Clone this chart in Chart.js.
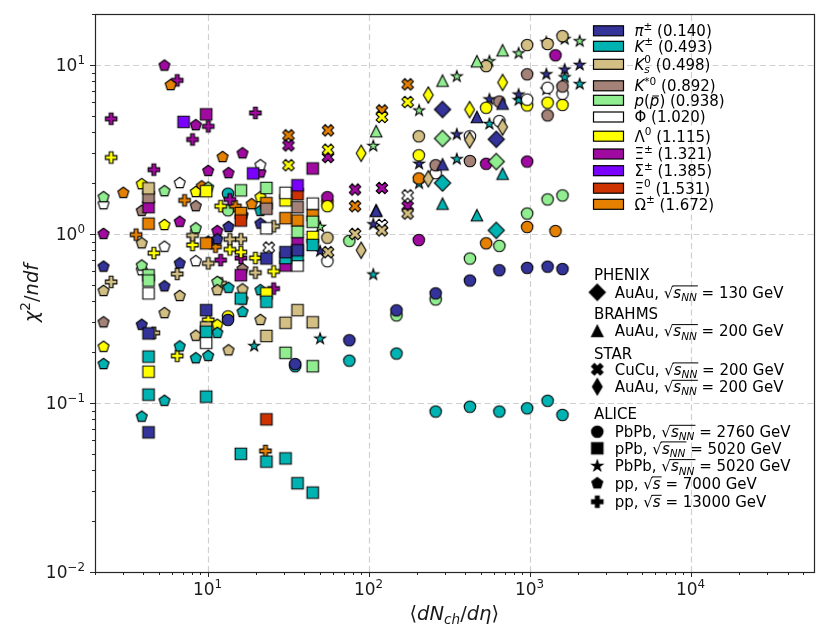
<!DOCTYPE html>
<html>
<head>
<meta charset="utf-8">
<script src="https://cdn.jsdelivr.net/npm/chart.js@4.4.0/dist/chart.umd.min.js"></script>
<style>
  html, body { margin: 0; padding: 0; background: #fff; }
</style>
</head>
<body>
<canvas id="chart" width="830" height="637"></canvas>
<script>
// particle species (colour order follows the legend)
const speciesColors = ['#333399', '#00b3b3', '#d3bf83', '#a58278', '#90ee90', '#ffffff',
                       '#ffff00', '#a00aa0', '#7a00ff', '#cc3300', '#e68000'];
const speciesMass = ['0.140', '0.493', '0.498', '0.892', '0.938', '1.020', '1.115', '1.321', '1.385', '1.531', '1.672'];

// axis ticks
const xTickValues = [10, 100, 1000, 10000];
const xTickExps = ['1', '2', '3', '4'];
const yTickValues = [0.01, 0.1, 1, 10];
const yTickExps = ['\u22122', '\u22121', '0', '1'];

// ALICE pPb 5.02 TeV (squares)  [<dNch/deta>, chi2/ndf]
const pPb_pi = [[36.2, 0.80], [30.5, 0.78], [23.2, 0.716], [9.8, 0.354], [4.3, 0.258], [4.3, 0.067]];
const pPb_K = [[45, 0.86], [36.2, 0.75], [30.5, 0.72], [23.2, 0.397], [16.1, 0.415], [9.8, 0.264], [4.3, 0.188],
               [45, 0.0295], [36.2, 0.0335], [30.5, 0.047], [23.2, 0.045], [16.1, 0.05], [9.8, 0.109], [4.3, 0.112]];
const pPb_K0s = [[45, 0.30], [36.2, 0.354], [30.5, 0.298], [23.2, 0.249], [9.8, 0.28], [4.3, 1.86]];
const pPb_Kstar = [[36.2, 1.44], [23.2, 1.41], [4.3, 1.65]];
const pPb_p = [[45, 1.18], [36.2, 1.03], [23.2, 1.87], [16.1, 1.81], [4.3, 0.57], [4.3, 0.53], [45, 0.165], [30.5, 0.198]];
const pPb_Phi = [[45, 1.51], [36.2, 0.65], [30.5, 1.75], [23.2, 1.08], [9.8, 0.227], [4.3, 0.445]];
const pPb_Lambda = [[45, 0.96], [30.5, 1.58], [23.2, 0.445], [9.8, 1.79], [4.3, 0.153]];
const pPb_Xi = [[45, 2.44], [36.2, 0.88], [30.5, 0.65], [16.1, 0.57], [9.8, 5.1], [4.3, 1.44]];
const pPb_Sigma = [[36.2, 1.94], [19.2, 2.28], [7.1, 4.6]];
const pPb_Xi0 = [[36.2, 1.72], [16.1, 1.2], [23.2, 0.08]];
const pPb_Omega = [[45, 1.29], [36.2, 1.2], [30.5, 1.24], [23.2, 1.52], [16.1, 1.33], [9.8, 0.88], [4.3, 1.15]];

// ALICE pp 7 TeV (pentagons)
const pp7_pi = [[21.3, 1.15], [16.5, 1.29], [13.5, 1.1], [11.5, 0.93], [10.1, 0.9], [6.72, 0.67], [5.4, 0.49], [3.9, 0.29], [2.26, 0.64]];
const pp7_K = [[21.3, 0.465], [16.5, 0.346], [13.5, 0.48], [11.5, 0.26], [10.1, 0.19], [8.45, 0.184], [6.72, 0.216], [5.4, 0.103], [3.9, 0.083], [2.26, 0.17], [21.3, 1.37]];
const pp7_K0s = [[21.3, 0.31], [16.5, 0.47], [13.5, 0.205], [11.5, 0.465], [8.45, 0.25], [6.72, 0.43], [5.4, 0.34], [3.9, 0.88], [2.26, 0.46]];
const pp7_Kstar = [[16.5, 0.62], [8.45, 1.46], [3.9, 1.37], [2.26, 0.3]];
const pp7_p = [[10.1, 1.88], [8.45, 1.08], [11.5, 0.52], [5.4, 1.79], [3.9, 0.65], [2.26, 1.65]];
const pp7_Phi = [[21.3, 2.55], [8.45, 0.69], [6.72, 2.0], [5.4, 0.84], [3.9, 0.61], [2.26, 1.5]];
const pp7_Lambda = [[21.3, 1.65], [16.5, 0.41], [11.5, 0.29], [8.45, 1.77], [5.4, 1.13], [3.9, 1.97], [2.26, 0.215]];
const pp7_Xi = [[21.3, 2.31], [16.5, 3.0], [13.5, 2.29], [11.5, 1.04], [10.1, 2.36], [8.45, 4.4], [6.72, 1.18], [5.4, 9.9], [2.26, 1.0]];
const pp7_Omega = [[18.8, 1.5], [12.4, 2.85], [9.2, 1.91], [5.9, 7.6], [3.0, 1.75]];

// ALICE pp 13 TeV (filled plus)
const pp13_K0s = [[25.75, 1.11], [19.83, 0.59], [16.12, 0.93], [13.76, 0.93], [12.06, 0.51], [10.11, 0.67], [8.07, 0.98], [6.48, 0.58], [4.64, 0.26], [2.52, 0.52]];
const pp13_Lambda = [[25.75, 0.6], [19.83, 0.72], [16.12, 0.78], [13.76, 0.81], [12.06, 1.46], [10.11, 0.31], [8.07, 0.86], [6.48, 0.19], [4.64, 0.77], [2.52, 2.83]];
const pp13_Xi = [[25.75, 0.475], [19.83, 5.2], [16.12, 0.72], [13.76, 1.6], [12.06, 0.7], [10.11, 4.33], [8.07, 3.62], [6.48, 8.1], [4.64, 2.4], [2.52, 4.8]];
const pp13_Omega = [[22.9, 0.052], [14.9, 1.46], [11.2, 0.84], [7.2, 1.58], [3.6, 0.99]];

// STAR CuCu 200 GeV (filled x)
const starCuCu_K0s = [[175, 1.32], [121, 1.05], [82.4, 1.0], [56, 0.78]];
const starCuCu_Phi = [[175, 1.69], [121, 1.13], [24, 0.83]];
const starCuCu_Lambda = [[175, 6.03], [121, 4.92], [56, 3.15], [31.8, 2.55]];
const starCuCu_Xi = [[175, 1.46], [121, 1.87], [82.4, 1.83], [56, 2.85], [31.8, 3.34]];
const starCuCu_Omega = [[175, 7.67], [121, 5.38], [82.4, 1.46], [56, 4.1], [31.8, 3.83]];

// STAR AuAu 200 GeV (thin diamonds)
const starAuAu_K0s = [[680, 4.29], [424, 3.6], [235, 2.12], [90, 0.8]];
const starAuAu_Lambda = [[680, 7.87], [424, 5.44], [235, 6.63], [90, 3.0]];

// BRAHMS AuAu 200 GeV (triangles)
const brahms_pi = [[680, 5.9], [471, 4.92], [288, 2.58], [111.5, 1.37]];
const brahms_K = [[680, 2.27], [471, 1.29], [288, 1.51], [111.5, 1.38]];
const brahms_p = [[680, 12.2], [471, 10.5], [288, 8.07], [111.5, 4.05]];

// PHENIX AuAu 130 GeV (diamonds)
const phenix_pi = [[621, 3.63], [288, 5.45]];
const phenix_K = [[621, 1.05], [288, 2.0]];
const phenix_p = [[621, 2.68], [288, 3.67]];

// ALICE PbPb 2.76 TeV (circles)
const pbpb2760_pi = [[1601, 0.62], [1294, 0.64], [966, 0.63], [649, 0.61], [426, 0.53], [261, 0.445], [149, 0.353], [76, 0.235], [35, 0.17], [13.4, 0.31]];
const pbpb2760_K = [[1601, 0.085], [1294, 0.103], [966, 0.093], [649, 0.089], [426, 0.095], [261, 0.089], [149, 0.196], [76, 0.178], [35, 0.165], [13.4, 1.73]];
const pbpb2760_K0s = [[1601, 14.8], [1294, 13.3], [966, 13.1], [537.5, 9.84], [205, 3.78], [55.5, 0.95]];
const pbpb2760_Kstar = [[1601, 7.45], [1294, 5.03], [966, 8.8], [649, 6.07], [426, 2.7], [261, 2.55]];
const pbpb2760_p = [[1601, 1.69], [1294, 1.6], [966, 1.32], [649, 0.85], [426, 0.715], [261, 0.41], [149, 0.33], [76, 0.91], [13.4, 1.38]];
const pbpb2760_Phi = [[1601, 6.75], [1294, 7.33], [966, 6.23], [649, 4.65], [426, 3.78], [261, 2.29], [55.5, 0.69]];
const pbpb2760_Lambda = [[1601, 5.8], [1294, 5.98], [966, 5.76], [537.5, 5.58], [205, 2.92], [55.5, 1.46], [13.4, 0.325]];
const pbpb2760_Xi = [[1448, 11.4], [966, 2.68], [537.5, 2.6], [205, 0.92], [55.5, 1.65]];
const pbpb2760_Omega = [[1448, 1.04], [966, 1.1], [537.5, 0.88], [205, 2.13], [55.5, 1.55]];

// ALICE PbPb 5.02 TeV (stars)
const pbpb5020_pi = [[2047, 10.0], [1652, 9.38], [1271, 8.8], [855, 6.67], [563, 6.25], [353, 3.88], [206, 2.6], [107, 1.14], [50, 0.79]];
const pbpb5020_K = [[2047, 7.7], [1652, 8.44], [1271, 7.14], [855, 6.18], [563, 4.47], [353, 2.77], [206, 1.99], [107, 0.575], [50, 0.24], [19.5, 0.217]];
const pbpb5020_p = [[2047, 13.8], [1652, 14.2], [1271, 13.6], [855, 11.7], [563, 10.5], [353, 8.54], [206, 5.37], [107, 3.31], [50, 1.1]];

// [points, species index, marker] in drawing order
const seriesDefs = [
  [pPb_pi, 0, 'square'], [pPb_K, 1, 'square'], [pPb_K0s, 2, 'square'], [pPb_Kstar, 3, 'square'],
  [pPb_p, 4, 'square'], [pPb_Phi, 5, 'square'], [pPb_Lambda, 6, 'square'], [pPb_Xi, 7, 'square'],
  [pPb_Sigma, 8, 'square'], [pPb_Xi0, 9, 'square'], [pPb_Omega, 10, 'square'],
  [pp7_pi, 0, 'pentagon'], [pp7_K, 1, 'pentagon'], [pp7_K0s, 2, 'pentagon'], [pp7_Kstar, 3, 'pentagon'],
  [pp7_p, 4, 'pentagon'], [pp7_Phi, 5, 'pentagon'], [pp7_Lambda, 6, 'pentagon'], [pp7_Xi, 7, 'pentagon'],
  [pp7_Omega, 10, 'pentagon'],
  [pp13_K0s, 2, 'plus'], [pp13_Lambda, 6, 'plus'], [pp13_Xi, 7, 'plus'], [pp13_Omega, 10, 'plus'],
  [starCuCu_K0s, 2, 'x'], [starCuCu_Phi, 5, 'x'], [starCuCu_Lambda, 6, 'x'], [starCuCu_Xi, 7, 'x'], [starCuCu_Omega, 10, 'x'],
  [starAuAu_K0s, 2, 'thin'], [starAuAu_Lambda, 6, 'thin'],
  [brahms_pi, 0, 'triangle'], [brahms_K, 1, 'triangle'], [brahms_p, 4, 'triangle'],
  [phenix_pi, 0, 'diamond'], [phenix_K, 1, 'diamond'], [phenix_p, 4, 'diamond'],
  [pbpb2760_pi, 0, 'circle'], [pbpb2760_K, 1, 'circle'], [pbpb2760_K0s, 2, 'circle'], [pbpb2760_Kstar, 3, 'circle'],
  [pbpb2760_p, 4, 'circle'], [pbpb2760_Phi, 5, 'circle'], [pbpb2760_Lambda, 6, 'circle'], [pbpb2760_Xi, 7, 'circle'],
  [pbpb2760_Omega, 10, 'circle'],
  [pbpb5020_pi, 0, 'star'], [pbpb5020_K, 1, 'star'], [pbpb5020_p, 4, 'star']
];

const FONT = '"DejaVu Sans", sans-serif';
const MS = 11.5;
const LEG_FS = 15;

function font(size, italic) {
  return (italic ? 'italic ' : '') + size + 'px ' + FONT;
}

// matplotlib-like filled markers drawn into small canvases
function makeMarker(shape, fill) {
  const S = 24;
  const c = document.createElement('canvas');
  c.width = S; c.height = S;
  const g = c.getContext('2d');
  g.translate(S / 2, S / 2);
  const r = MS / 2;
  const poly = pts => { g.moveTo(pts[0][0], pts[0][1]); pts.slice(1).forEach(p => g.lineTo(p[0], p[1])); g.closePath(); };
  g.beginPath();
  if (shape === 'circle') {
    g.arc(0, 0, r, 0, Math.PI * 2);
  } else if (shape === 'square') {
    g.rect(-r, -r, MS, MS);
  } else if (shape === 'diamond' || shape === 'thin') {
    const h = r * Math.SQRT2, w = shape === 'thin' ? h * 0.6 : h;
    poly([[0, -h], [w, 0], [0, h], [-w, 0]]);
  } else if (shape === 'triangle') {
    poly([[0, -r], [r, r], [-r, r]]);
  } else if (shape === 'pentagon') {
    const pts = [];
    for (let k = 0; k < 5; k++) pts.push([r * Math.sin(2 * Math.PI * k / 5), -r * Math.cos(2 * Math.PI * k / 5)]);
    poly(pts);
  } else if (shape === 'star') {
    const pts = [];
    for (let k = 0; k < 10; k++) {
      const rr = k % 2 ? r * 0.381966 : r;
      pts.push([rr * Math.sin(Math.PI * k / 5), -rr * Math.cos(Math.PI * k / 5)]);
    }
    poly(pts);
  } else if (shape === 'plus') {
    const u = MS / 6;
    poly([[-1, -3], [1, -3], [1, -1], [3, -1], [3, 1], [1, 1], [1, 3], [-1, 3], [-1, 1], [-3, 1], [-3, -1], [-1, -1]]
      .map(p => [p[0] * u, p[1] * u]));
  } else if (shape === 'x') {
    const u = MS / 4;
    poly([[-1, -2], [0, -1], [1, -2], [2, -1], [1, 0], [2, 1], [1, 2], [0, 1], [-1, 2], [-2, 1], [-1, 0], [-2, -1]]
      .map(p => [p[0] * u, p[1] * u]));
  }
  g.fillStyle = fill;
  g.fill();
  g.lineWidth = 1.1;
  g.strokeStyle = '#000';
  g.stroke();
  return c;
}

// text with super/subscripts, bars and overlines
function rich(g, x, y, parts, fs, align) {
  const items = parts.map(p => {
    const size = p.s ? fs * 0.7 : fs;
    g.font = font(size, p.i);
    return { p, size, w: g.measureText(p.t).width };
  });
  let total = 0;
  items.forEach(it => { if (!it.p.na) total += it.w; });
  let cx = align === 'center' ? x - total / 2 : align === 'right' ? x - total : x;
  let ol = null;
  g.textAlign = 'left';
  g.textBaseline = 'alphabetic';
  for (const it of items) {
    const p = it.p;
    g.font = font(it.size, p.i);
    const dy = p.s === 'sup' ? -fs * 0.42 : p.s === 'sub' ? fs * 0.22 : 0;
    g.fillText(p.t, cx, y + dy);
    if (p.bar) g.fillRect(cx + it.w * 0.25, y - fs * 0.68, it.w * 0.7, 1);
    if (p.ol) { if (!ol) ol = [cx, cx + it.w]; else ol[1] = cx + it.w; }
    if (!p.na) cx += it.w;
  }
  if (ol) g.fillRect(ol[0] - 1, y - fs * 0.82, ol[1] - ol[0] + 2, 1);
  return cx;
}

const speciesLabels = [
  [{ t: '\u03c0', i: 1 }, { t: '\u00b1', s: 'sup' }],
  [{ t: 'K', i: 1 }, { t: '\u00b1', s: 'sup' }],
  [{ t: 'K', i: 1 }, { t: 's', i: 1, s: 'sub', na: 1 }, { t: '0', s: 'sup' }],
  [{ t: 'K', i: 1 }, { t: '*0', s: 'sup' }],
  [{ t: 'p', i: 1 }, { t: '(' }, { t: 'p', i: 1, bar: 1 }, { t: ')' }],
  [{ t: '\u03a6' }],
  [{ t: '\u039b' }, { t: '0', s: 'sup' }],
  [{ t: '\u039e' }, { t: '\u00b1', s: 'sup' }],
  [{ t: '\u03a3' }, { t: '\u00b1', s: 'sup' }],
  [{ t: '\u039e' }, { t: '0', s: 'sup' }],
  [{ t: '\u03a9' }, { t: '\u00b1', s: 'sup' }]
];
const speciesRowY = [30.8, 46.3, 64.3, 85.8, 100.3, 117, 136.2, 154, 170.7, 188.2, 204.3];

const sNN = [{ t: '\u221a' }, { t: 's', i: 1, ol: 1 }, { t: 'NN', i: 1, s: 'sub', ol: 1 }];
const sPP = [{ t: '\u221a' }, { t: 's', i: 1, ol: 1 }];
const experimentLegend = [
  { head: 'PHENIX', y: 275 },
  { shape: 'diamond', y: 292.3, parts: [{ t: 'AuAu, ' }, ...sNN, { t: ' = 130 GeV' }] },
  { head: 'BRAHMS', y: 313.3 },
  { shape: 'triangle', y: 331, parts: [{ t: 'AuAu, ' }, ...sNN, { t: ' = 200 GeV' }] },
  { head: 'STAR', y: 353.3 },
  { shape: 'x', y: 369.3, parts: [{ t: 'CuCu, ' }, ...sNN, { t: ' = 200 GeV' }] },
  { shape: 'thin', y: 386.7, parts: [{ t: 'AuAu, ' }, ...sNN, { t: ' = 200 GeV' }] },
  { head: 'ALICE', y: 414 },
  { shape: 'circle', y: 431.7, parts: [{ t: 'PbPb, ' }, ...sNN, { t: ' = 2760 GeV' }] },
  { shape: 'square', y: 448.3, parts: [{ t: 'pPb, ' }, ...sNN, { t: ' = 5020 GeV' }] },
  { shape: 'star', y: 466, parts: [{ t: 'PbPb, ' }, ...sNN, { t: ' = 5020 GeV' }] },
  { shape: 'pentagon', y: 483.3, parts: [{ t: 'pp, ' }, ...sPP, { t: ' = 7000 GeV' }] },
  { shape: 'plus', y: 501.7, parts: [{ t: 'pp, ' }, ...sPP, { t: ' = 13000 GeV' }] }
];

const gridPlugin = {
  id: 'grid',
  beforeDatasetsDraw(chart) {
    const { ctx: g, chartArea: a, scales: { x, y } } = chart;
    g.save();
    g.strokeStyle = '#d0d0d0';
    g.lineWidth = 1.2;
    g.setLineDash([6, 3.5]);
    xTickValues.forEach(v => {
      const px = Math.round(x.getPixelForValue(v)) + 0.5;
      g.beginPath(); g.moveTo(px, a.bottom); g.lineTo(px, a.top); g.stroke();
    });
    yTickValues.forEach(v => {
      const py = Math.round(y.getPixelForValue(v)) + 0.5;
      if (py > a.bottom - 1) return;
      g.beginPath(); g.moveTo(a.left, py); g.lineTo(a.right, py); g.stroke();
    });
    g.restore();
  },
  afterDatasetsDraw(chart) {
    const { ctx: g, chartArea: a, scales: { x, y } } = chart;
    g.save();
    // frame
    g.strokeStyle = '#262626';
    g.lineWidth = 1.2;
    g.strokeRect(Math.round(a.left) + 0.5, Math.round(a.top) + 0.5, Math.round(a.right - a.left), Math.round(a.bottom - a.top));
    // ticks
    g.lineWidth = 1;
    for (let e = 0; e <= 4; e++) {
      for (let m = 1; m <= 9; m++) {
        const v = m * Math.pow(10, e);
        if (v < x.min || v > x.max) continue;
        const px = Math.round(x.getPixelForValue(v)) + 0.5;
        const len = m === 1 ? 5 : 3;
        g.beginPath(); g.moveTo(px, a.bottom); g.lineTo(px, a.bottom + len); g.stroke();
      }
    }
    for (let e = -2; e <= 1; e++) {
      for (let m = 1; m <= 9; m++) {
        const v = m * Math.pow(10, e);
        if (v < y.min * 0.999 || v > y.max) continue;
        const py = Math.round(y.getPixelForValue(v)) + 0.5;
        const len = m === 1 ? 5 : 3;
        g.beginPath(); g.moveTo(a.left, py); g.lineTo(a.left - len, py); g.stroke();
      }
    }
    // tick labels
    g.fillStyle = '#1a1a1a';
    xTickValues.forEach((v, i) => {
      rich(g, x.getPixelForValue(v), 595, [{ t: '10' }, { t: xTickExps[i], s: 'sup' }], 17, 'center');
    });
    yTickValues.forEach((v, i) => {
      rich(g, 85, y.getPixelForValue(v) + 6.2, [{ t: '10' }, { t: yTickExps[i], s: 'sup' }], 17, 'right');
    });
    // axis titles
    rich(g, (a.left + a.right) / 2, 620,
      [{ t: '\u27e8' }, { t: 'dN', i: 1 }, { t: 'ch', i: 1, s: 'sub' }, { t: '/' }, { t: 'd\u03b7', i: 1 }, { t: '\u27e9' }], 19.5, 'center');
    g.save();
    g.translate(31, (a.top + a.bottom) / 2);
    g.rotate(-Math.PI / 2);
    rich(g, 0, 7, [{ t: '\u03c7', i: 1 }, { t: '2', s: 'sup' }, { t: '/' }, { t: 'ndf', i: 1 }], 19.5, 'center');
    g.restore();
    // species legend
    speciesLabels.forEach((parts, i) => {
      const cy = speciesRowY[i];
      g.fillStyle = speciesColors[i];
      g.fillRect(593.5, cy - 5, 30, 10);
      g.strokeStyle = '#000';
      g.lineWidth = 1.2;
      g.strokeRect(593.5, cy - 5, 30, 10);
      g.fillStyle = '#000';
      rich(g, 634.5, cy + 5.4, parts.concat([{ t: ' (' + speciesMass[i] + ')' }]), LEG_FS);
    });
    // experiment legend
    experimentLegend.forEach(row => {
      g.fillStyle = '#000';
      if (row.head) {
        rich(g, 594, row.y + 5.4, [{ t: row.head }], LEG_FS);
      } else {
        const m = makeMarker(row.shape, '#000');
        g.drawImage(m, 597.3 - m.width / 2, row.y - m.height / 2);
        g.fillStyle = '#000';
        rich(g, 614.7, row.y + 5.4, row.parts, LEG_FS);
      }
    });
    g.restore();
  }
};

const datasets = seriesDefs.map(([pts, sp, shape]) => ({
  data: pts.map(([vx, vy]) => ({ x: vx, y: vy })),
  pointStyle: makeMarker(shape, speciesColors[sp]),
  pointRadius: 6,
  showLine: false
}));

new Chart(document.getElementById('chart'), {
  type: 'scatter',
  data: { datasets },
  options: {
    responsive: false,
    animation: false,
    devicePixelRatio: 1,
    events: [],
    layout: { padding: { top: 14, right: 16.5, left: 0, bottom: 0 } },
    plugins: { legend: { display: false }, tooltip: { enabled: false } },
    scales: {
      x: {
        type: 'logarithmic', min: 2, max: 58000,
        grid: { display: false, drawTicks: false }, border: { display: false },
        ticks: { display: false },
        afterFit(s) { s.height = 65; s.paddingLeft = 0; s.paddingRight = 0; }
      },
      y: {
        type: 'logarithmic', min: 0.01, max: 20,
        grid: { display: false, drawTicks: false }, border: { display: false },
        ticks: { display: false },
        afterFit(s) { s.width = 95; s.paddingTop = 0; s.paddingBottom = 0; }
      }
    }
  },
  plugins: [gridPlugin]
});
</script>
</body>
</html>
